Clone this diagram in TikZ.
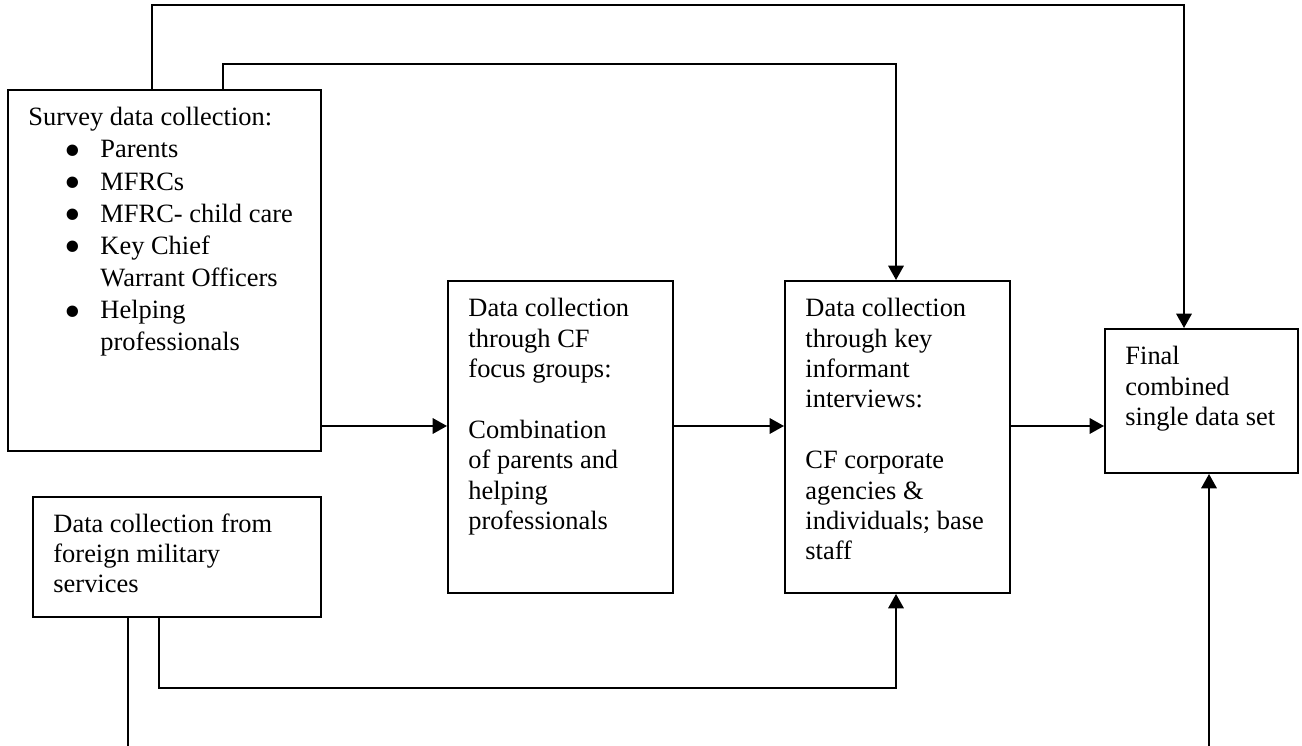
\documentclass[tikz,border=0pt]{standalone}
\usepackage{fontspec}
\usepackage{graphicx}
\setmainfont{Liberation Serif}
\usetikzlibrary{arrows.meta}
\newlength\pxu
\setlength\pxu{0.454pt}
\begin{document}
\begin{tikzpicture}[x={(0.454pt,0)}, y={(0,-0.454pt)},
  box/.style={draw, line width=0.9pt, inner sep=0pt, anchor=north west},
  txt/.style={anchor=north west, inner sep=0pt, align=left, font=\fontsize{12pt}{13.8pt}\selectfont},
  bul/.style={anchor=north west, inner sep=0pt, align=left, font=\fontsize{12pt}{14.6pt}\selectfont},
  ln/.style={line width=0.9pt},
  arr/.style={line width=0.9pt, -{Triangle[length=6.5pt,width=7pt]}}]
\useasboundingbox (0,0) rectangle (1302,746);
% boxes
\node[box, minimum width=313\pxu, minimum height=361\pxu] (survey) at (7,89) {};
\node[box, minimum width=225\pxu, minimum height=312\pxu] (focus) at (447,280) {};
\node[box, minimum width=225\pxu, minimum height=312\pxu] (key) at (784,280) {};
\node[box, minimum width=193\pxu, minimum height=144\pxu] (final) at (1104,328) {};
\node[box, minimum width=288\pxu, minimum height=120\pxu] (foreign) at (32,496) {};
% texts
\newcommand\bl{\hspace*{16.3pt}\makebox[16.4pt][l]{\raisebox{-3.8pt}[0pt][0pt]{\scalebox{1.8}{\textbullet}}}}
\node[bul] (surveyt) at ([shift={(21,18)}]survey.north west)
  {Survey data collection:\\
   \bl Parents\\
   \bl MFRCs\\
   \bl MFRC- child care\\
   \bl Key Chief\\
   \hspace*{32.7pt}Warrant Officers\\
   \bl Helping\\
   \hspace*{32.7pt}professionals};
\node[txt] (focust) at ([shift={(21,18)}]focus.north west)
  {Data collection\\ through CF\\ focus groups:\\[13.8pt] Combination\\ of parents and\\ helping\\ professionals};
\node[txt] (keyt) at ([shift={(21,18)}]key.north west)
  {Data collection\\ through key\\ informant\\ interviews:\\[13.8pt] CF corporate\\ agencies \&\\ individuals; base\\ staff};
\node[txt] (finalt) at ([shift={(21,18)}]final.north west)
  {Final\\ combined\\ single data set};
\node[txt] (foreignt) at ([shift={(21,17)}]foreign.north west)
  {Data collection from\\ foreign military\\ services};
% helper coordinates
\coordinate (r) at (0,426);
\coordinate (t1) at (152,5);
\coordinate (t1r) at (1184,5);
\coordinate (t2) at (223,64);
\coordinate (t2r) at (896,64);
\coordinate (b1) at (159,688);
\coordinate (b1r) at (896,688);
\coordinate (b2) at (128,746);
\coordinate (b3) at (1209,746);
% connectors
\draw[arr] (survey.east |- r) -- (focus.west |- r);
\draw[arr] (focus.east |- r) -- (key.west |- r);
\draw[arr] (key.east |- r) -- (final.west |- r);
\draw[arr] (survey.north -| t1) -- (t1) -- (t1r) -- (final.north -| t1r);
\draw[arr] (survey.north -| t2) -- (t2) -- (t2r) -- (key.north -| t2r);
\draw[arr] (foreign.south -| b1) -- (b1) -- (b1r) -- (key.south -| b1r);
\draw[ln] (foreign.south -| b2) -- (b2);
\draw[arr] (b3) -- (final.south -| b3);
\end{tikzpicture}
\end{document}
